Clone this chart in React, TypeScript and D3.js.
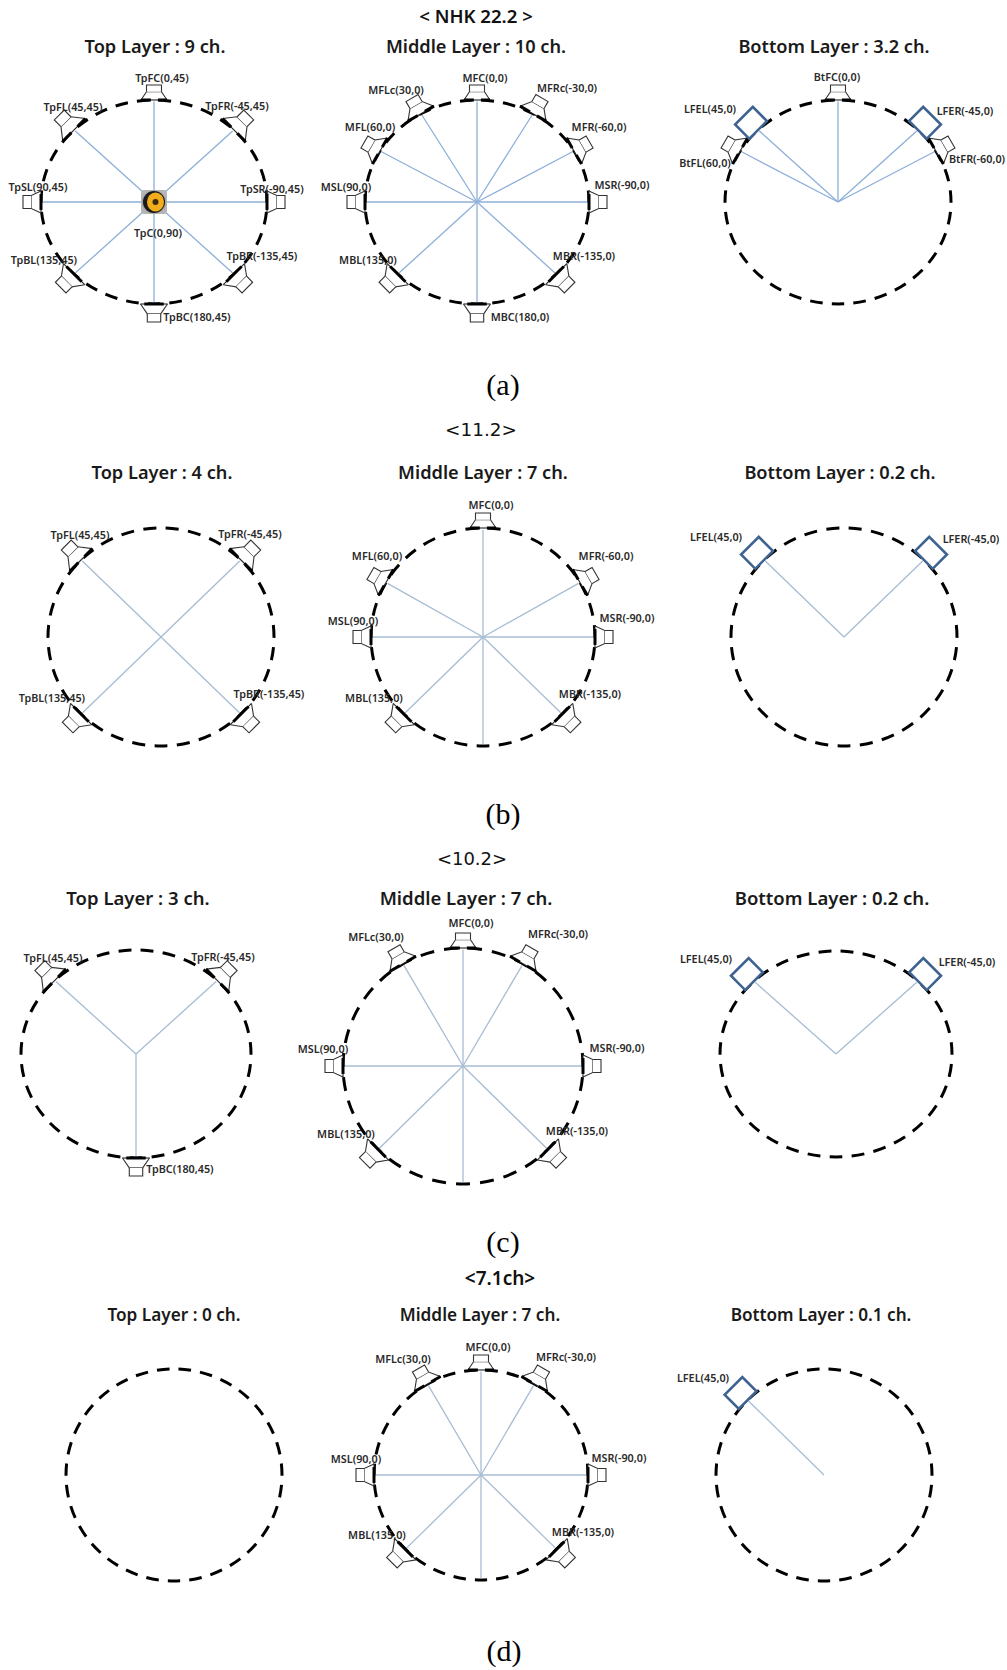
import React from "react";
import * as d3 from "d3";

// ---------- data ----------
type Ch = [string, number, number];
const rowHeadings = ["< NHK 22.2 >", "<11.2>", "<10.2>", "<7.1ch>"];
const rowCaptions = ["(a)", "(b)", "(c)", "(d)"];

const nhkTopTitle = "Top Layer : 9 ch.";
const nhkMidTitle = "Middle Layer : 10 ch.";
const nhkBotTitle = "Bottom Layer : 3.2 ch.";
const nhkTop: Ch[] = [["TpFC", 0, 45], ["TpFL", 45, 45], ["TpFR", -45, 45], ["TpSL", 90, 45], ["TpSR", -90, 45], ["TpBL", 135, 45], ["TpBR", -135, 45], ["TpBC", 180, 45], ["TpC", 0, 90]];
const nhkMid: Ch[] = [["MFC", 0, 0], ["MFLc", 30, 0], ["MFRc", -30, 0], ["MFL", 60, 0], ["MFR", -60, 0], ["MSL", 90, 0], ["MSR", -90, 0], ["MBL", 135, 0], ["MBR", -135, 0], ["MBC", 180, 0]];
const nhkBot: Ch[] = [["BtFC", 0, 0], ["BtFL", 60, 0], ["BtFR", -60, 0], ["LFEL", 45, 0], ["LFER", -45, 0]];

const d112TopTitle = "Top Layer : 4 ch.";
const d112MidTitle = "Middle Layer : 7 ch.";
const d112BotTitle = "Bottom Layer : 0.2 ch.";
const d112Top: Ch[] = [["TpFL", 45, 45], ["TpFR", -45, 45], ["TpBL", 135, 45], ["TpBR", -135, 45]];
const d112Mid: Ch[] = [["MFC", 0, 0], ["MFL", 60, 0], ["MFR", -60, 0], ["MSL", 90, 0], ["MSR", -90, 0], ["MBL", 135, 0], ["MBR", -135, 0]];
const d112Bot: Ch[] = [["LFEL", 45, 0], ["LFER", -45, 0]];

const d102TopTitle = "Top Layer : 3 ch.";
const d102MidTitle = "Middle Layer : 7 ch.";
const d102BotTitle = "Bottom Layer : 0.2 ch.";
const d102Top: Ch[] = [["TpFL", 45, 45], ["TpFR", -45, 45], ["TpBC", 180, 45]];
const d102Mid: Ch[] = [["MFC", 0, 0], ["MFLc", 30, 0], ["MFRc", -30, 0], ["MSL", 90, 0], ["MSR", -90, 0], ["MBL", 135, 0], ["MBR", -135, 0]];
const d102Bot: Ch[] = [["LFEL", 45, 0], ["LFER", -45, 0]];

const d71TopTitle = "Top Layer : 0 ch.";
const d71MidTitle = "Middle Layer : 7 ch.";
const d71BotTitle = "Bottom Layer : 0.1 ch.";
const d71Top: Ch[] = [];
const d71Mid: Ch[] = [["MFC", 0, 0], ["MFLc", 30, 0], ["MFRc", -30, 0], ["MSL", 90, 0], ["MSR", -90, 0], ["MBL", 135, 0], ["MBR", -135, 0]];
const d71Bot: Ch[] = [["LFEL", 45, 0]];

// Middle layers of (b), (c), (d) show a spoke towards 180 with no loudspeaker on it
const spokeOnlyAzimuth = 180;

// ---------- layout ----------
type Panel = {
  title: string; tx: number; ty: number; fs: number;
  cx: number; cy: number; rx: number; ry: number;
  ch: Ch[]; labels: [number, number][]; spoke?: boolean; col: string;
};
const blueA = "#8dafd9";
const blueB = "#a7bcd3";

const panels: Panel[] = [
  { title: nhkTopTitle, tx: 155, ty: 46, fs: 18.2, cx: 154, cy: 202, rx: 113, ry: 102, ch: nhkTop, col: blueA,
    labels: [[162, 78], [73, 107], [237, 106], [38, 187], [272, 189], [44, 260], [262, 256], [197, 317], [158, 233]] },
  { title: nhkMidTitle, tx: 476, ty: 46, fs: 18.2, cx: 477, cy: 202, rx: 112, ry: 102, ch: nhkMid, col: blueA,
    labels: [[485, 78], [396, 90], [567, 88], [370, 127], [599, 127], [346, 187], [622, 185], [368, 260], [584, 256], [520, 317]] },
  { title: nhkBotTitle, tx: 834, ty: 46, fs: 18.2, cx: 838, cy: 202, rx: 113, ry: 102, ch: nhkBot, col: blueA,
    labels: [[837, 77], [705, 163], [977, 159], [710, 109], [965, 111]] },

  { title: d112TopTitle, tx: 162, ty: 472, fs: 18.2, cx: 161, cy: 637, rx: 113, ry: 109, ch: d112Top, col: blueB,
    labels: [[80, 535], [250, 534], [52, 698], [269, 694]] },
  { title: d112MidTitle, tx: 483, ty: 472, fs: 18.2, cx: 483, cy: 637, rx: 112, ry: 109, ch: d112Mid, col: blueB, spoke: true,
    labels: [[491, 505], [377, 556], [606, 556], [353, 621], [627, 618], [374, 698], [590, 694]] },
  { title: d112BotTitle, tx: 840, ty: 472, fs: 18.2, cx: 844, cy: 637, rx: 113, ry: 109, ch: d112Bot, col: blueB,
    labels: [[716, 537], [971, 539]] },

  { title: d102TopTitle, tx: 138, ty: 897, fs: 18.5, cx: 136, cy: 1054, rx: 115, ry: 104, ch: d102Top, col: blueB,
    labels: [[53, 958], [223, 957], [180, 1169]] },
  { title: d102MidTitle, tx: 466, ty: 897, fs: 18.5, cx: 463, cy: 1066, rx: 120, ry: 118, ch: d102Mid, col: blueB, spoke: true,
    labels: [[471, 923], [376, 937], [558, 934], [323, 1049], [617, 1048], [346, 1134], [577, 1131]] },
  { title: d102BotTitle, tx: 832, ty: 897, fs: 18.5, cx: 836, cy: 1054, rx: 116, ry: 103, ch: d102Bot, col: blueB,
    labels: [[706, 959], [967, 962]] },

  { title: d71TopTitle, tx: 174, ty: 1314, fs: 17.2, cx: 174, cy: 1475, rx: 108, ry: 106, ch: d71Top, col: blueB, labels: [] },
  { title: d71MidTitle, tx: 480, ty: 1314, fs: 17.2, cx: 481, cy: 1475, rx: 107, ry: 105, ch: d71Mid, col: blueB, spoke: true,
    labels: [[488, 1347], [403, 1359], [566, 1357], [356, 1459], [619, 1458], [377, 1535], [583, 1532]] },
  { title: d71BotTitle, tx: 821, ty: 1314, fs: 17.2, cx: 824, cy: 1475, rx: 108, ry: 106, ch: d71Bot, col: blueB,
    labels: [[703, 1378]] },
];

const headings: { x: number; y: number; fs: number; w: number; fam: string }[] = [
  { x: 476, y: 15, fs: 18.6, w: 600, fam: "'Noto Sans'" },
  { x: 481, y: 429, fs: 18.4, w: 400, fam: "'DejaVu Sans'" },
  { x: 472, y: 858, fs: 18, w: 400, fam: "'DejaVu Sans'" },
  { x: 500, y: 1278, fs: 19, w: 600, fam: "'Noto Sans'" },
];
const captionPos: [number, number][] = [[503, 395], [503, 824], [503, 1252], [504, 1661]];
const labelLift = 1;

// ---------- glyphs ----------
const azToRad = d3.scaleLinear().domain([-180, 180]).range([Math.PI, -Math.PI]);
const polar = (p: Panel, az: number, k = 1): [number, number] => {
  const a = azToRad(az);
  return [p.cx + Math.sin(a) * p.rx * k, p.cy - Math.cos(a) * p.ry * k];
};
const outline = d3.line();
// base width, depth and half-width of the box, by |azimuth|
const glyphSize = (az: number): { w: number; d: number; h: number; split: boolean } => {
  const a = Math.abs(az);
  if (a === 90) return { w: 22, d: 18, h: 6.5, split: false };
  if (a === 135) return { w: 30, d: 19, h: 7.5, split: false };
  if (a === 180) return { w: 27, d: 18, h: 6.7, split: false };
  if (a === 45) return { w: 32, d: 21, h: 7, split: true };
  if (a === 30 || a === 60) return { w: 30, d: 18, h: 7, split: true };
  return { w: 26, d: 15, h: 7.5, split: true };
};

function Speaker({ p, az }: { p: Panel; az: number }) {
  const [x, y] = polar(p, az);
  const { w, d, h, split } = glyphSize(az);
  const neck = -d * 0.55;
  const horn = outline([[-w / 2, 0], [-h, neck], [h, neck], [w / 2, 0]]) as string;
  const box = outline([[-h, neck], [-h, -d], [h, -d], [h, neck]]) as string;
  return (
    <g transform={`translate(${x},${y}) rotate(${-az})`}>
      <path d={horn} fill="#fff" stroke="#333" strokeWidth={1.1} />
      <path d={box} fill="#fff" stroke="#333" strokeWidth={1.1} />
      <line x1={-w / 2} x2={w / 2} y1={0} y2={0} stroke="#222" strokeWidth={1.1} />
      {split ? (
        <>
          <line x1={-w / 2} x2={-w * 0.12} y1={0} y2={0} stroke="#000" strokeWidth={3} />
          <line x1={w * 0.15} x2={w / 2} y1={0} y2={0} stroke="#000" strokeWidth={3} />
        </>
      ) : (
        <line x1={-w * 0.36} x2={w * 0.36} y1={0} y2={0} stroke="#000" strokeWidth={3} />
      )}
    </g>
  );
}

function Lfe({ p, az }: { p: Panel; az: number }) {
  const [x, y] = polar(p, az);
  return (
    <rect x={-12.5} y={-20} width={25} height={20} transform={`translate(${x},${y}) rotate(${-az})`}
      fill="#fff" stroke="#3f6391" strokeWidth={2.6} />
  );
}

function TopCentre({ p }: { p: Panel }) {
  return (
    <g transform={`translate(${p.cx},${p.cy})`}>
      <rect x={-13} y={-12} width={26} height={24} rx={3} fill="url(#tpcBack)" />
      <ellipse rx={11} ry={11} fill="#1a1a1a" />
      <ellipse cx={1.5} rx={8.5} ry={9.5} fill="#f2ad1c" />
      <ellipse cx={1.5} rx={3} ry={3} fill="#3a2a10" />
    </g>
  );
}

const DASHES = 31;
const DASH = 0.58 / DASHES;
const GAP = 0.42 / DASHES;

function PanelView({ p }: { p: Panel }) {
  const spokes = p.ch.filter((c) => c[2] !== 90).map((c) => c[1]);
  if (p.spoke) spokes.push(spokeOnlyAzimuth);
  return (
    <g>
      <text x={p.tx} y={p.ty} textAnchor="middle" dominantBaseline="central" fontFamily="'Noto Sans'" fontWeight={600}
        fontSize={p.fs} fill="#1a1a1a">{p.title}</text>
      <ellipse cx={p.cx} cy={p.cy} rx={p.rx} ry={p.ry} fill="none" stroke="#000" strokeWidth={3} pathLength={1}
        strokeDasharray={`${DASH} ${GAP}`} strokeDashoffset={(0.54 / DASHES)} />
      {spokes.map((az, i) => {
        const [x, y] = polar(p, az, 0.985);
        return <line key={i} x1={p.cx} y1={p.cy} x2={x} y2={y} stroke={p.col} strokeWidth={1.3} />;
      })}
      {p.ch.map((c, i) => {
        if (c[2] === 90) return <TopCentre key={i} p={p} />;
        if (c[0].startsWith("LFE")) return <Lfe key={i} p={p} az={c[1]} />;
        return <Speaker key={i} p={p} az={c[1]} />;
      })}
      {p.ch.map((c, i) => (
        <text key={i} x={p.labels[i][0]} y={p.labels[i][1] - labelLift} textAnchor="middle" dominantBaseline="central"
          fontFamily="'Noto Sans'" fontWeight={600} fontSize={10.8} fill="#2a2a2a">
          {`${c[0]}(${c[1]},${c[2]})`}
        </text>
      ))}
    </g>
  );
}

export default function App() {
  return (
    <svg width={1007} height={1670} viewBox="0 0 1007 1670" style={{ position: "absolute", left: 0, top: 0, background: "#fff" }}>
      <defs>
        <radialGradient id="tpcBack">
          <stop offset="0.6" stopColor="#6b6b6b" />
          <stop offset="1" stopColor="#b5b5b5" />
        </radialGradient>
      </defs>
      {panels.map((p, i) => <PanelView key={i} p={p} />)}
      {rowHeadings.map((t, i) => (
        <text key={t} x={headings[i].x} y={headings[i].y} textAnchor="middle" dominantBaseline="central"
          fontFamily={headings[i].fam} fontWeight={headings[i].w} fontSize={headings[i].fs} fill="#111">{t}</text>
      ))}
      {rowCaptions.map((t, i) => (
        <text key={t} x={captionPos[i][0]} y={captionPos[i][1]} textAnchor="middle"
          fontFamily="'Liberation Serif'" fontSize={30} fill="#000">{t}</text>
      ))}
    </svg>
  );
}
